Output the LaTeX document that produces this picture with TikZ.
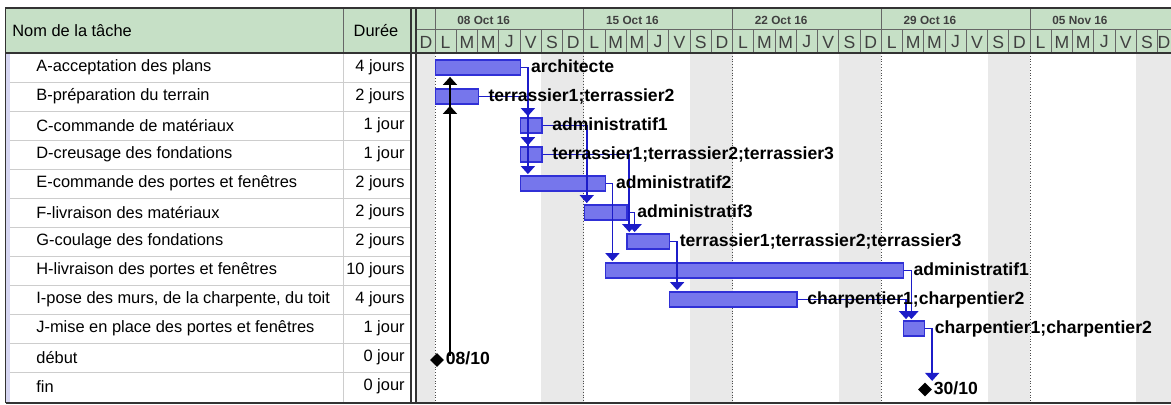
\documentclass[tikz,border=0pt]{standalone}
\usepackage{fontspec}
\setmainfont{Liberation Sans}
\usetikzlibrary{positioning,arrows.meta,shapes.geometric}

\definecolor{headgreen}{RGB}{198,224,198}
\definecolor{barblue}{RGB}{118,118,236}
\definecolor{barline}{RGB}{48,48,214}
\definecolor{linkblue}{RGB}{28,28,200}
\definecolor{weekgray}{RGB}{233,233,233}
\definecolor{rowgray}{RGB}{205,205,205}
\definecolor{edgelav}{RGB}{214,214,242}

\newcommand{\daywd}{10.625pt}

\tikzset{
  task/.style={anchor=west, inner sep=0pt, font=\fontsize{8.2}{9}\selectfont},
  dur/.style={anchor=east, inner sep=0pt, font=\fontsize{8.2}{9}\selectfont},
  dayhead/.style={inner sep=0pt, text=black!75, font=\fontsize{8.8}{10}\selectfont},
  datehead/.style={anchor=west, inner sep=0pt, text=black!75, font=\bfseries\fontsize{5.9}{7}\selectfont},
  bar/.style={draw=barline, fill=barblue, line width=0.7pt, anchor=west, inner sep=0pt, minimum height=7.5pt},
  res/.style={inner sep=0pt, text height=6.4pt, text depth=1.8pt, font=\bfseries\fontsize{8.8}{10}\selectfont},
  mile/.style={diamond, fill=black, inner sep=0pt, minimum size=7pt},
  link/.style={draw=linkblue, line width=0.8pt, shorten >=0.6pt, -{Triangle[width=7pt,length=4pt]}},
  mlink/.style={link, draw=black},
}

\begin{document}
\begin{tikzpicture}[x=0.5pt, y=-0.5pt, >=Stealth, node distance=4.6pt]
	\useasboundingbox (0,0) rectangle (1171,405);
	\clip (0,0) rectangle (1171,405);

	% fonds
	\fill[headgreen] (5.5,8) rectangle (1171,53);
	\fill[weekgray] (417,53) rectangle (435,403);
	\foreach \w in {0,...,4}
		\fill[weekgray] ({541.25+148.75*\w},53) rectangle ({583.75+148.75*\w},403);
	\fill[edgelav] (6,53) rectangle (10,403);

	% grille du tableau
	\foreach \k in {1,...,11}
		\draw[rowgray] (10,{53+29*\k}) -- (410,{53+29*\k});
	\draw[rowgray] (343,53) -- (343,403);
	\draw[black!60] (343,8) -- (343,53);

	% en-tete du diagramme
	\draw[black!60] (417,29.5) -- (1171,29.5);
	\foreach \i in {0,...,34}
		\draw[black!60] ({435+21.25*\i},29.5) -- ({435+21.25*\i},53);
	\foreach \wk/\lab in {0/08 Oct 16, 1/15 Oct 16, 2/22 Oct 16, 3/29 Oct 16, 4/05 Nov 16} {
		\draw[black!60] ({435+148.75*\wk},8) -- ({435+148.75*\wk},29.5);
		\draw[black!70, densely dotted] ({435+148.75*\wk},53) -- ({435+148.75*\wk},403);
		\node[datehead] at ({457+148.75*\wk},20) {\lab};
	}
	\node[dayhead] at (426,42) {D};
	\foreach \w in {0,...,3}
		\foreach \l [count=\i from 0] in {L,M,M,J,V,S,D}
			\node[dayhead] at ({445.625+148.75*\w+21.25*\i},42) {\l};
	\foreach \l [count=\i from 0] in {L,M,M,J,V,S}
		\node[dayhead] at ({1040.625+21.25*\i},42) {\l};
	\node[dayhead] at (1164,42) {D};

	% cadre
	\draw[black!80, line width=0.9pt] (5.5,403) -- (5.5,8) -- (1171,8);
	\draw[black!80, line width=0.9pt] (5.5,403) -- (1171,403);
	\draw[black!80, line width=0.7pt] (5.5,53) -- (1171,53);
	\draw[black!80, line width=0.8pt] (411,8) -- (411,403);
	\draw[black!80, line width=0.8pt] (416,8) -- (416,403);

	% tableau
	\node[task] (hNom) at (12,30.5) {Nom de la tâche};
	\node[task, anchor=center] (hDur) at (376,30.5) {Durée};

	\node[task] (tA) at (36,67.5) {A-acceptation des plans};
	\node[task] (tB) at (36,96.5) {B-préparation du terrain};
	\node[task] (tC) at (36,125.5) {C-commande de matériaux};
	\node[task] (tD) at (36,154.5) {D-creusage des fondations};
	\node[task] (tE) at (36,183.5) {E-commande des portes et fenêtres};
	\node[task] (tF) at (36,212.5) {F-livraison des matériaux};
	\node[task] (tG) at (36,241.5) {G-coulage des fondations};
	\node[task] (tH) at (36,270.5) {H-livraison des portes et fenêtres};
	\node[task] (tI) at (36,299.5) {I-pose des murs, de la charpente, du toit};
	\node[task] (tJ) at (36,328.5) {J-mise en place des portes et fenêtres};
	\node[task] (tDeb) at (36,357.5) {début};
	\node[task] (tFin) at (36,386.5) {fin};

	\node[dur] (dA) at (405,67.5) {4 jours};
	\node[dur] (dB) at (405,96.5) {2 jours};
	\node[dur] (dC) at (405,125.5) {1 jour};
	\node[dur] (dD) at (405,154.5) {1 jour};
	\node[dur] (dE) at (405,183.5) {2 jours};
	\node[dur] (dF) at (405,212.5) {2 jours};
	\node[dur] (dG) at (405,241.5) {2 jours};
	\node[dur] (dH) at (405,270.5) {10 jours};
	\node[dur] (dI) at (405,299.5) {4 jours};
	\node[dur] (dJ) at (405,328.5) {1 jour};
	\node[dur] (dDeb) at (405,357.5) {0 jour};
	\node[dur] (dFin) at (405,386.5) {0 jour};

	% barres
	\node[bar, minimum width=4*\daywd] (bA) at (435,67.5) {};
	\node[bar, minimum width=2*\daywd] (bB) at (435,96.5) {};
	\node[bar, minimum width=\daywd] (bC) at (520,125.5) {};
	\node[bar, minimum width=\daywd] (bD) at (520,154.5) {};
	\node[bar, minimum width=4*\daywd] (bE) at (520,183.5) {};
	\node[bar, minimum width=2*\daywd] (bF) at (583.75,212.5) {};
	\node[bar, minimum width=2*\daywd] (bG) at (626.25,241.5) {};
	\node[bar, minimum width=14*\daywd] (bH) at (605,270.5) {};
	\node[bar, minimum width=6*\daywd] (bI) at (668.75,299.5) {};
	\node[bar, minimum width=\daywd] (bJ) at (902.5,328.5) {};
	\node[mile] (mDeb) at (437,360) {};
	\node[mile] (mFin) at (925,389.5) {};

	% liens
	\coordinate (kDeb) at ([xshift=6.5pt,yshift=-1.5pt]mDeb.north);
	\coordinate (kA) at ([xshift=3.25pt]bA.east);
	\coordinate (kC) at ([xshift=1.5pt]bF.west);
	\coordinate (kD) at ([xshift=1.5pt]bG.west);
	\coordinate (kF) at ([xshift=3.5pt]bF.east);
	\coordinate (kE) at ([xshift=3pt]bE.east);
	\coordinate (kG) at ([xshift=3.5pt]bG.east);
	\coordinate (kI) at ([xshift=1.75pt]bJ.west);
	\coordinate (kH) at ([xshift=3.75pt]bH.east);
	\coordinate (kJ) at ([xshift=3.5pt]bJ.east);

	\draw[mlink] (kDeb) -- (kDeb |- bA.south);
	\draw[mlink] (kDeb) -- (kDeb |- bB.south);
	\draw[link] (bA.east) -| (kA |- bC.north);
	\draw[link] (kA) -- (kA |- bD.north);
	\draw[link] (kA) -- (kA |- bE.north);
	\draw[link] (bB.east) -| (kA |- bD.north);
	\draw[link] (bC.east) -| (kC |- bF.north);
	\draw[link] (bD.east) -| (kD |- bG.north);
	\draw[link] (bF.east) -| (kF |- bG.north);
	\draw[link] (bE.east) -| (kE |- bH.north);
	\draw[link] (bG.east) -| (kG |- bI.north);
	\draw[link] (bH.east) -| (kH |- bJ.north);
	\draw[link] (bI.east) -| (kI |- bJ.north);
	\draw[link] (bJ.east) -| (kJ |- mFin.north);

	% ressources
	\node[res, right=of bA] (rA) {architecte};
	\node[res, right=of bB] (rB) {terrassier1;terrassier2};
	\node[res, right=of bC] (rC) {administratif1};
	\node[res, right=of bD] (rD) {terrassier1;terrassier2;terrassier3};
	\node[res, right=of bE] (rE) {administratif2};
	\node[res, right=of bF] (rF) {administratif3};
	\node[res, right=of bG] (rG) {terrassier1;terrassier2;terrassier3};
	\node[res, right=of bH] (rH) {administratif1};
	\node[res, right=of bI] (rI) {charpentier1;charpentier2};
	\node[res, right=of bJ] (rJ) {charpentier1;charpentier2};
	\node[res, right=0.5pt of mDeb] (rDeb) {08/10};
	\node[res, right=0.5pt of mFin] (rFin) {30/10};
\end{tikzpicture}
\end{document}
